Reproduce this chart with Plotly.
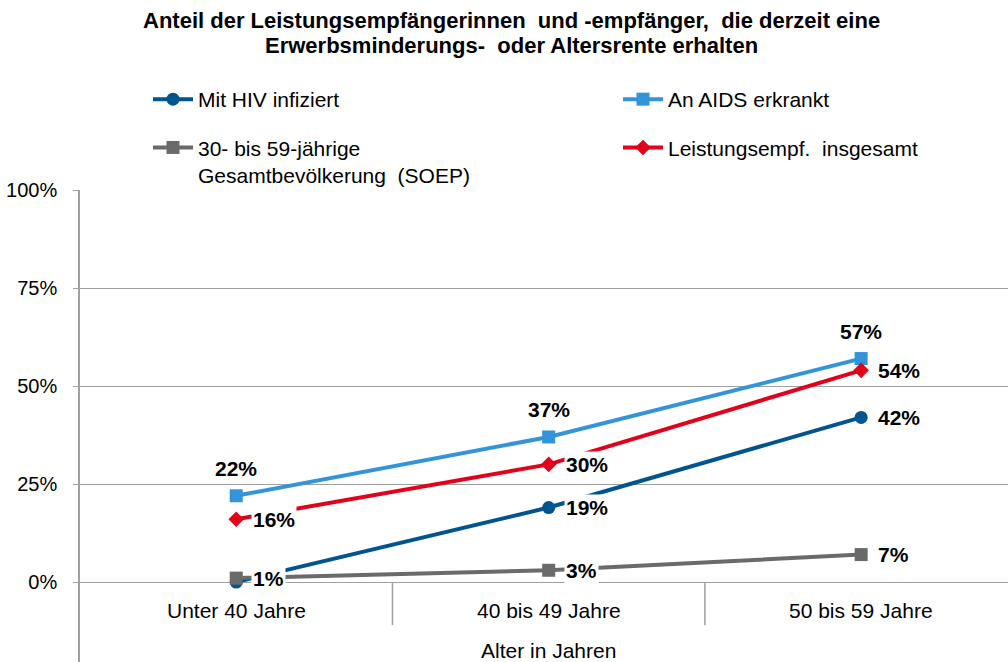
import plotly.graph_objects as go

# Altersgruppen (Kategorienachse)
categories = ["Unter 40 Jahre", "40 bis 49 Jahre", "50 bis 59 Jahre"]

# Anteile in Prozent
hiv_infiziert = [0, 19, 42]
aids_erkrankt = [22, 37, 57]
gesamtbevoelkerung = [1, 3, 7]
leistungsempf_insgesamt = [16, 30, 54]

# Beschriftung der y-Achse
y_tick_values = [0, 25, 50, 75, 100]
y_tick_labels = ["0%", "25%", "50%", "75%", "100%"]

# Diagrammtitel (zwei Zeilen)
title_lines = ["Anteil der Leistungsempfängerinnen  und -empfänger,  die derzeit eine",
               "Erwerbsminderungs-  oder Altersrente erhalten"]

FONT = "Liberation Sans, Arial, Helvetica, sans-serif"
GRID = "#A0A0A0"
PLOT_LEFT, PLOT_TOP, PLOT_W, PLOT_H = 80, 190, 928, 472

# name, values, colour, marker symbol, marker size, label side, legend, indices with label
series = [
    ("Mit HIV infiziert", hiv_infiziert, "#00558E", "circle", 13, "right", "legend", [1, 2]),
    ("An AIDS erkrankt", aids_erkrankt, "#3394DA", "square", 13, "above", "legend2", [0, 1, 2]),
    ("30- bis 59-jährige<br>Gesamtbevölkerung  (SOEP)", gesamtbevoelkerung, "#6A6A6A", "square", 13,
     "right", "legend", [0, 1, 2]),
    ("Leistungsempf.  insgesamt", leistungsempf_insgesamt, "#E2001A", "diamond", 12, "right", "legend2",
     [0, 1, 2]),
]

fig = go.Figure()
annotations = []

for i, (name, values, color, symbol, msize, side, legend, labelled) in enumerate(series):
    fig.add_trace(go.Scatter(
        x=categories, y=values, name=name, mode="lines+markers",
        line=dict(color=color, width=4),
        marker=dict(symbol=symbol, size=msize, color=color),
        legend=legend, legendgroup=f"g{i}",
    ))
    for j in labelled:
        ann = dict(x=categories[j], y=values[j], xref="x", yref="y",
                   text=f"<b>{values[j]}%</b>", showarrow=False,
                   bgcolor="white", borderpad=1,
                   font=dict(family=FONT, size=21, color="black"))
        if side == "above":
            ann.update(xanchor="center", yanchor="bottom", yshift=14)
        else:
            ann.update(xanchor="left", yanchor="middle", xshift=15)
        annotations.append(ann)

# Kategoriebeschriftungen und Achsentitel
for c in categories:
    annotations.append(dict(x=c, y=-7.2, xref="x", yref="y", text=c, showarrow=False,
                            font=dict(family=FONT, size=21, color="black")))
annotations.append(dict(x=categories[1], y=-17.4, xref="x", yref="y", text="Alter in Jahren",
                        showarrow=False, font=dict(family=FONT, size=21, color="black")))

# Titelzeilen
for k, line in enumerate(title_lines):
    annotations.append(dict(
        text=f"<b>{line}</b>",
        xref="paper", yref="paper", x=(511 - PLOT_LEFT) / PLOT_W,
        y=1 + (PLOT_TOP - 20 - 25 * k) / PLOT_H,
        xanchor="center", yanchor="middle", showarrow=False,
        font=dict(family=FONT, size=22, color="black"),
    ))

# Trennstriche zwischen den Kategorien
shapes = [dict(type="line", xref="x", yref="y", x0=k + 0.5, x1=k + 0.5, y0=0, y1=-11,
               line=dict(color=GRID, width=1.5)) for k in range(len(categories) - 1)]

legend_style = dict(xref="container", yref="container", xanchor="left", yanchor="top",
                    orientation="v", bgcolor="rgba(0,0,0,0)", tracegroupgap=18,
                    valign="top", itemwidth=40,
                    font=dict(family=FONT, size=21, color="black"))

fig.update_layout(
    width=1008, height=662,
    margin=dict(l=PLOT_LEFT, r=0, t=PLOT_TOP, b=0, autoexpand=False),
    paper_bgcolor="white", plot_bgcolor="white",
    xaxis=dict(type="category", range=[-0.5, 2.47], showgrid=False, zeroline=False,
               showticklabels=False, ticks="", showline=False),
    yaxis=dict(range=[-20.4, 100], tickvals=y_tick_values, ticktext=y_tick_labels,
               showgrid=True, gridcolor=GRID, gridwidth=1.3, zeroline=False,
               showline=True, linecolor=GRID, linewidth=1.5,
               ticks="outside", ticklen=5, tickcolor=GRID, ticklabelstandoff=12,
               tickfont=dict(family=FONT, size=20, color="black")),
    legend=dict(x=148 / 1008, y=1 - 79 / 662, **legend_style),
    legend2=dict(x=618 / 1008, y=1 - 79 / 662, **legend_style),
    annotations=annotations,
    shapes=shapes,
    showlegend=True,
)

fig.write_html("out.html")
